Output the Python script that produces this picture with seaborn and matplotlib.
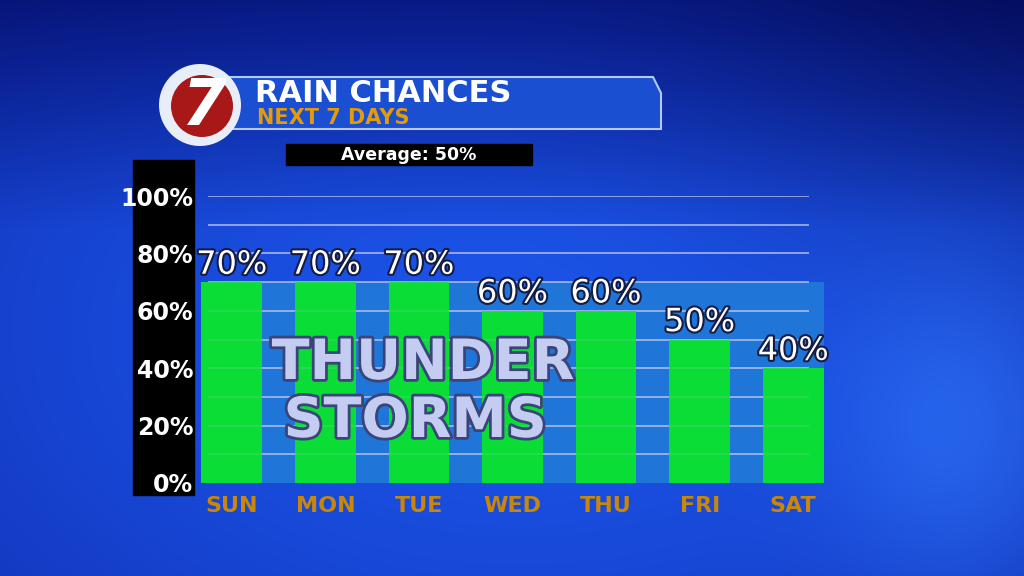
import matplotlib
matplotlib.use("Agg")
import matplotlib.pyplot as plt
import matplotlib.patheffects as pe
from matplotlib.patches import Rectangle, Circle, Polygon
import numpy as np
import pandas as pd
import seaborn as sns

days = ["SUN", "MON", "TUE", "WED", "THU", "FRI", "SAT"]
chances = [70, 70, 70, 60, 60, 50, 40]
tick_values = [0, 20, 40, 60, 80, 100]
tick_labels = ["0%", "20%", "40%", "60%", "80%", "100%"]
grid_values = [10, 20, 30, 40, 50, 60, 70, 80, 90, 100]
title = "RAIN CHANCES"
subtitle = "NEXT 7 DAYS"
average_text = "Average: 50%"
overlay_lines = ["THUNDER", "STORMS"]

sns.set_theme(style="white")
plt.rcParams["font.family"] = ["DejaVu Sans"]

W, H = 1024, 576
fig = plt.figure(figsize=(10.24, 5.76), dpi=100)

# blue studio backdrop
bg = fig.add_axes([0, 0, 1, 1])
yy, xx = np.mgrid[0:H, 0:W]
d = np.sqrt(((xx - 520) / 720.0) ** 2 + ((yy - 330) / 460.0) ** 2)
t = np.clip(d, 0, 1) ** 1.5
c0 = np.array([0.11, 0.33, 0.91])
c1 = np.array([0.07, 0.21, 0.74])
img = c0 * (1 - t[..., None]) + c1 * t[..., None]
top = np.clip(yy / 230.0, 0, 1)[..., None]
img = img * ((0.4 + 0.6 * top) * np.array([1.0, 1.0, 1.0]) + (1 - top) * np.array([0.0, 0.0, 0.25]))
corner = np.exp(-(((xx - 1024) / 320.0) ** 2 + (yy / 230.0) ** 2))[..., None]
img = img * (1 - 0.3 * corner * np.array([1.0, 1.0, 0.7]))
glow = np.exp(-(((xx - 960) / 130.0) ** 2 + ((yy - 430) / 170.0) ** 2))[..., None]
img = img + glow * np.array([0.06, 0.12, 0.10])
bg.imshow(np.clip(img, 0, 1), extent=(0, W, H, 0), aspect="auto")
bg.set_xlim(0, W)
bg.set_ylim(H, 0)
bg.axis("off")

# y axis band
bg.add_patch(Rectangle((133, 160), 61, 335, color="black"))

# header banner
bg.add_patch(Polygon([(230, 77), (653, 77), (661, 93), (661, 129), (230, 129)],
                     closed=True, fc="#1a4fd2", ec="#b4c8f4", lw=1.5))
bg.add_patch(Circle((200, 105), 41, fc="#e8eef8", ec="none"))
bg.add_patch(Circle((202, 106), 31, fc="#a81818", ec="none"))
bg.text(203, 107, "7", fontsize=46, fontweight="bold", fontstyle="italic",
        color="white", ha="center", va="center")
bg.text(255, 94, title, fontsize=22, fontweight="heavy", color="white",
        ha="left", va="center")
bg.text(257, 118, subtitle, fontsize=15, fontweight="heavy", color="#e39a0c",
        ha="left", va="center")

bg.add_patch(Rectangle((286, 144), 246, 21, color="black"))
bg.text(409, 155, average_text, fontsize=12.5, fontweight="bold", color="white",
        ha="center", va="center")

# main chart
ax = fig.add_axes([185 / W, (H - 483) / H, 655 / W, 287 / H])
ax.patch.set_alpha(0)

ax.fill_between([-0.32, 6.33], 0, max(chances), color="#1f76d8", lw=0, zorder=0.5)
ax.hlines(grid_values, -0.25, 6.17, colors="#c8cdee", lw=1.1, alpha=0.8, zorder=1)

df = pd.DataFrame({"day": days, "chance": chances})
sns.barplot(data=df, x="day", y="chance", color="#0ade36", saturation=1,
            width=0.65, errorbar=None, linewidth=0, zorder=2, ax=ax)
ax.hlines(grid_values, -0.25, 6.17, colors="#c8cdee", lw=1.1, alpha=0.18, zorder=3)

ax.bar_label(ax.containers[0], labels=[f"{v}%" for v in chances], padding=1,
             color="white", fontsize=23,
             path_effects=[pe.withStroke(linewidth=3, foreground="#141c44")])

ax.set_xlim(-0.5, 6.5)
ax.set_ylim(0, 100)
ax.set_yticks(tick_values, tick_labels)
ax.tick_params(axis="y", length=0, pad=-6, labelsize=17, labelcolor="white")
ax.tick_params(axis="x", length=0, pad=9, labelsize=16, labelcolor="#c8860a")
for lab in ax.get_yticklabels() + ax.get_xticklabels():
    lab.set_fontweight("heavy")
ax.set_xlabel("")
ax.set_ylabel("")
ax.grid(False)
for s in ax.spines.values():
    s.set_visible(False)

# overlay caption
for txt, (px, py) in zip(overlay_lines, [(423, 364), (415, 422)]):
    fig.text(px / W, 1 - py / H, txt, fontsize=40, fontweight="heavy",
             color="#c4ccf2", ha="center", va="center",
             path_effects=[pe.withStroke(linewidth=4, foreground="#3a4478")])

fig.savefig("out.png", dpi=100)
